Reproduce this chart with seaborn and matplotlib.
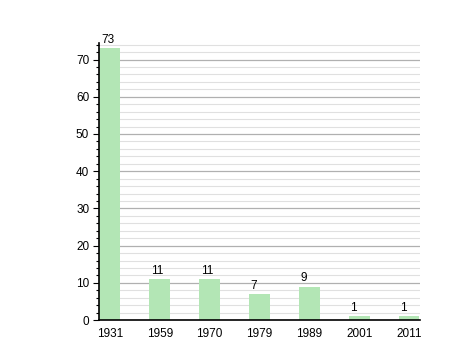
import matplotlib
matplotlib.use("Agg")
import matplotlib.pyplot as plt
import seaborn as sns
import pandas as pd
from matplotlib.ticker import MultipleLocator

years = ["1931", "1959", "1970", "1979", "1989", "2001", "2011"]
values = [73, 11, 11, 7, 9, 1, 1]

df = pd.DataFrame({"year": years, "value": values})

sns.set_style("white")
plt.rcParams["font.family"] = ["Liberation Sans", "DejaVu Sans"]

fig = plt.figure(figsize=(4.58, 3.6), dpi=100)
ax = fig.add_axes([0.216, 0.111, 0.701, 0.770])

bw = 0.42
sns.barplot(data=df, x="year", y="value", order=years, color="#b3e6b5",
            saturation=1, width=bw, ax=ax, zorder=3, edgecolor="none", linewidth=0)

ax.set_xlim(-0.22, 6.22)
ax.set_ylim(0, 74.5)
ax.yaxis.set_major_locator(MultipleLocator(10))
ax.yaxis.set_minor_locator(MultipleLocator(2))
ax.grid(which="major", axis="y", color="#b0b0b0", linewidth=0.9, zorder=0)
ax.grid(which="minor", axis="y", color="#e0e0e0", linewidth=0.8, zorder=0)
ax.set_axisbelow(True)

for s in ["top", "right"]:
    ax.spines[s].set_visible(False)
for s in ["left", "bottom"]:
    ax.spines[s].set_color("black")
    ax.spines[s].set_linewidth(1.2)
    ax.spines[s].set_zorder(5)

ax.tick_params(axis="y", which="major", left=True, length=4, width=0.8, labelsize=8.5,
               pad=3, colors="black")
ax.tick_params(axis="y", which="minor", left=True, length=2.5, width=0.8, color="black")
ax.tick_params(axis="x", which="major", bottom=False, labelsize=8.5, pad=2, colors="black")
ax.set_xlabel("")
ax.set_ylabel("")

for i, v in enumerate(values):
    ax.text(i - bw / 2 + 0.03, v + 0.6, str(v), ha="left", va="bottom", fontsize=8.5,
            color="black")

fig.savefig("out.png", dpi=100)
